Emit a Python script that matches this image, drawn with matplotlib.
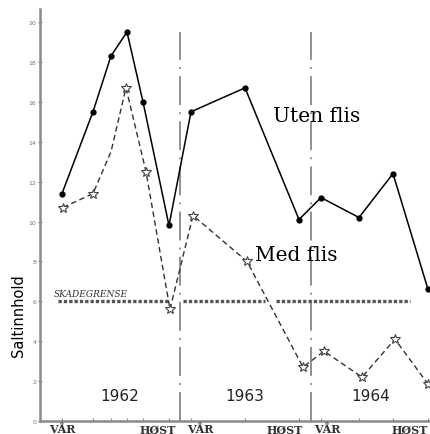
import numpy as np
import matplotlib
matplotlib.use("Agg")
import matplotlib.pyplot as plt

# sampling positions along the time axis (arbitrary units, 1962 VÅR -> 1964 HØST)
x_uten = [22, 53, 71, 87, 103, 129, 151, 205, 259, 281, 319, 353, 388]
y_uten = [11.4, 15.5, 18.3, 19.5, 16.0, 9.8, 15.5, 16.7, 10.1, 11.2, 10.2, 12.4, 6.6]

x_med = [23, 53, 71, 86, 106, 130, 153, 207, 263, 284, 322, 355, 388]
y_med = [10.7, 11.4, 13.5, 16.7, 12.5, 5.6, 10.3, 8.0, 2.7, 3.5, 2.2, 4.1, 1.85]

skadegrense = 6.0
skade_segments = [(18, 128), (143, 225), (236, 370)]
year_dividers = [140, 271]
years = ["1962", "1963", "1964"]
year_x = [80, 205, 331]
season_labels = ["VÅR", "HØST", "VÅR", "HØST", "VÅR", "HØST"]
season_x = [22, 118, 160, 245, 287, 370]
yticks = np.arange(0, 21, 2)

fig = plt.figure(figsize=(4.31, 4.35), dpi=100)
ax = fig.add_axes([0.0928, 0.0299, 0.9072, 0.947])

ax.set_xlim(0, 391)
ax.set_ylim(0, 20.65)

for xd in year_dividers:
    ax.plot([xd, xd], [0, 19.5], color="#888888", lw=1.3,
            linestyle=(0, (16, 4, 1, 4)))

for x0, x1 in skade_segments:
    ax.plot([x0, x1], [skadegrense, skadegrense], color="#555555", lw=2.4,
            linestyle=(0, (1, 0.6)))
ax.text(14, skadegrense + 0.15, "SKADEGRENSE", family="DejaVu Serif",
        style="italic", fontsize=6.5, color="#333333", va="bottom")

ax.plot(x_uten, y_uten, color="black", lw=1.1, marker="o", ms=3.5,
        markerfacecolor="black")
ax.plot(x_med, y_med, color="#333333", lw=1.0, linestyle=(0, (4, 2.5)),
        marker="*", ms=7, markerfacecolor="white", markeredgecolor="#444444",
        markeredgewidth=0.8, markevery=[0, 1, 3, 4, 5, 6, 7, 8, 9, 10, 11, 12])

ax.text(233, 15.3, "Uten flis", family="DejaVu Serif", fontsize=14.5,
        va="center")
ax.text(215, 8.35, "Med flis", family="DejaVu Serif", fontsize=14.5,
        va="center")

for xy, yr in zip(year_x, years):
    ax.text(xy, 1.3, yr, fontsize=11, ha="center", va="center", color="#222222")
for xs, s in zip(season_x, season_labels):
    ax.text(xs, -0.12, s, family="DejaVu Serif", fontsize=8,
            fontweight="bold", ha="center", va="top", color="#333333")

ax.set_yticks(yticks)
ax.set_yticklabels([str(v) for v in yticks], fontsize=4.5, color="#777777")
ax.set_xticks(x_uten)
ax.set_xticklabels([])
ax.tick_params(axis="y", direction="inout", length=3, color="#888888", pad=1)
ax.tick_params(axis="x", direction="in", length=2.5, color="#888888")

for side in ["top", "right"]:
    ax.spines[side].set_visible(False)
for side in ["left", "bottom"]:
    ax.spines[side].set_color("#8a8a8a")
    ax.spines[side].set_linewidth(1.8)

fig.text(0.042, 0.275, "Saltinnhold", rotation=90, fontsize=10.5,
         ha="center", va="center")

fig.savefig("out.png", dpi=100)
